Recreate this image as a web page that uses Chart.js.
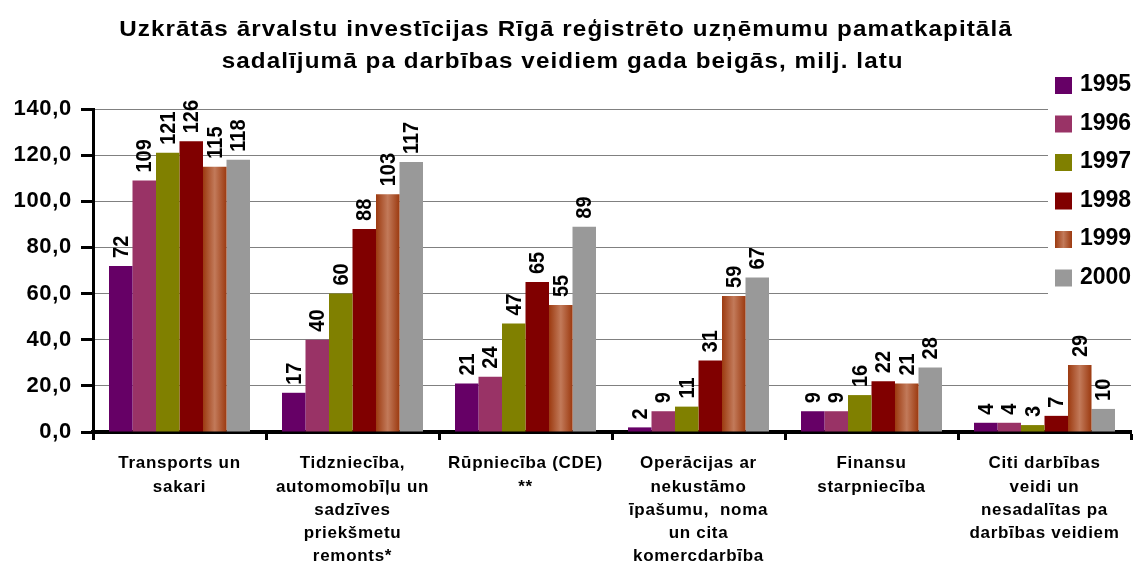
<!DOCTYPE html>
<html>
<head>
<meta charset="utf-8">
<script src="https://cdn.jsdelivr.net/npm/chart.js@4"></script>
<style>
  body { margin: 0; background: #fff; }
</style>
</head>
<body>
<canvas id="chart" width="1136" height="563"></canvas>
<script>
/* chart data */
const titleLines = ["Uzkrātās ārvalstu investīcijas Rīgā reģistrēto uzņēmumu pamatkapitālā",
                    "sadalījumā pa darbības veidiem gada beigās, milj. latu"];
const categories = [
    ["Transports un", "sakari"],
    ["Tidzniecība,", "automomobīļu un", "sadzīves", "priekšmetu", "remonts*"],
    ["Rūpniecība (CDE)", "**"],
    ["Operācijas ar", "nekustāmo", "īpašumu,  noma", "un cita", "komercdarbība"],
    ["Finansu", "starpniecība"],
    ["Citi darbības", "veidi un", "nesadalītas pa", "darbības veidiem"]
];
const years = ["1995", "1996", "1997", "1998", "1999", "2000"];

const values1995 = [72, 17, 21, 2, 9, 4];
const values1996 = [109, 40, 24, 9, 9, 4];
const values1997 = [121, 60, 47, 11, 16, 3];
const values1998 = [126, 88, 65, 31, 22, 7];
const values1999 = [115, 103, 55, 59, 21, 29];
const values2000 = [118, 117, 89, 67, 28, 10];

const yTicks = [0, 20, 40, 60, 80, 100, 120, 140];

const colors = ["#660066", "#993366", "#808000", "#800000", "#B05A35", "#999999"];

const FONT = "'Liberation Sans', Arial, sans-serif";
const CAT_PCT = 0.815;

// gradient for the 1999 bars, dark edges and light middle
function gradient1999(ctx, left, width) {
    const g = ctx.createLinearGradient(left, 0, left + width, 0);
    g.addColorStop(0, "#9C3A10");
    g.addColorStop(0.5, "#C27A5A");
    g.addColorStop(1, "#9C3A10");
    return g;
}

function barColor1999(context) {
    const chart = context.chart;
    const x = chart.scales.x;
    if (!x || context.dataIndex === undefined) return colors[4];
    const catW = (x.right - x.left) / categories.length;
    const groupW = catW * CAT_PCT;
    const barW = groupW / years.length;
    const left = x.getPixelForValue(context.dataIndex) - groupW / 2 + 4 * barW;
    if (!isFinite(left) || !isFinite(barW) || barW <= 0) return colors[4];
    return gradient1999(chart.ctx, left, barW);
}

// slightly wider letter spacing for the axis labels
const axisSpacing = {
    id: "axisSpacing",
    beforeDraw(chart) {
        chart.ctx.letterSpacing = "0.7px";
    }
};

// rotated value labels above bars
const valueLabels = {
    id: "valueLabels",
    afterDatasetsDraw(chart) {
        const ctx = chart.ctx;
        ctx.save();
        ctx.letterSpacing = "0px";
        ctx.fillStyle = "#000";
        ctx.font = "bold 20px " + FONT;
        ctx.textAlign = "left";
        ctx.textBaseline = "middle";
        chart.data.datasets.forEach((ds, di) => {
            chart.getDatasetMeta(di).data.forEach((bar, i) => {
                ctx.save();
                ctx.translate(bar.x + 1, bar.y - 8);
                ctx.rotate(-Math.PI / 2);
                ctx.scale(1, 1.1);
                ctx.fillText(String(ds.data[i]), 0, 0);
                ctx.restore();
            });
        });
        ctx.restore();
    }
};

// title and legend box drawn on top
const overlay = {
    id: "overlay",
    afterDraw(chart) {
        const ctx = chart.ctx;
        ctx.save();
        // title, a little stretched sideways like the original
        ctx.fillStyle = "#000";
        ctx.font = "bold 22px " + FONT;
        ctx.letterSpacing = "1px";
        ctx.textAlign = "center";
        ctx.textBaseline = "middle";
        ctx.save();
        ctx.translate(566, 0);
        ctx.scale(1.1, 1);
        ctx.fillText(titleLines[0], 0, 30);
        ctx.fillText(titleLines[1], -3, 62);
        ctx.restore();

        // legend
        ctx.fillStyle = "#fff";
        ctx.fillRect(1048, 64, 88, 234);
        ctx.font = "bold 23px " + FONT;
        ctx.letterSpacing = "0px";
        ctx.textAlign = "left";
        years.forEach((y, i) => {
            const cy = 85 + i * 38.5;
            ctx.fillStyle = i === 4 ? gradient1999(ctx, 1055, 17) : colors[i];
            ctx.fillRect(1055, cy - 8, 17, 17);
            ctx.fillStyle = "#000";
            ctx.fillText(y, 1080, cy);
        });
        ctx.restore();
    }
};

const seriesValues = [values1995, values1996, values1997, values1998, values1999, values2000];

new Chart(document.getElementById("chart"), {
    type: "bar",
    data: {
        labels: categories,
        datasets: years.map((y, i) => ({
            label: y,
            data: seriesValues[i],
            backgroundColor: i === 4 ? barColor1999 : colors[i],
            borderWidth: 0,
            categoryPercentage: CAT_PCT,
            barPercentage: 1
        }))
    },
    options: {
        responsive: false,
        animation: false,
        layout: { padding: { left: 0, right: 5, top: 109, bottom: 0 } },
        plugins: {
            legend: { display: false },
            tooltip: { enabled: false },
            title: { display: false }
        },
        scales: {
            x: {
                grid: {
                    offset: true,
                    drawOnChartArea: false,
                    drawTicks: true,
                    tickLength: 8,
                    tickColor: "#000",
                    tickWidth: 3
                },
                border: { color: "#000", width: 4 },
                ticks: {
                    color: "#000",
                    font: { family: FONT, size: 17, weight: "bold", lineHeight: 1.37 },
                    padding: 12,
                    maxRotation: 0,
                    autoSkip: false
                },
                afterFit(scale) { scale.height = 131; }
            },
            y: {
                min: 0,
                max: 140,
                afterBuildTicks(scale) { scale.ticks = yTicks.map(v => ({ value: v })); },
                grid: {
                    color: "#808080",
                    lineWidth: 1,
                    drawTicks: true,
                    tickLength: 12,
                    tickColor: "#000",
                    tickWidth: 3
                },
                border: { color: "#000", width: 3 },
                ticks: {
                    color: "#000",
                    font: { family: FONT, size: 22, weight: "bold" },
                    padding: 9,
                    callback: v => v.toFixed(1).replace(".", ",")
                },
                afterFit(scale) { scale.width = 93; }
            }
        }
    },
    plugins: [axisSpacing, valueLabels, overlay]
});
</script>
</body>
</html>
